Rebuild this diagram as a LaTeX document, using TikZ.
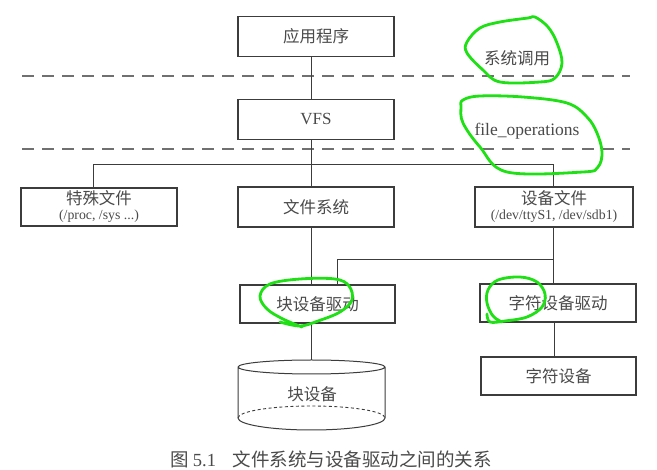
\documentclass[tikz,border=0pt]{standalone}
\usepackage{fontspec}
\setmainfont{Liberation Serif}
\newfontfamily\cjk{Noto Sans CJK SC}
\usetikzlibrary{calc}

\definecolor{inkline}{HTML}{3C3C3C}
\definecolor{inktext}{HTML}{4A4A4A}
\definecolor{dashgray}{HTML}{707070}
\definecolor{marker}{HTML}{1EE014}

\tikzset{
  box/.style={draw=inkline, line width=1.1pt, rectangle, inner sep=0pt,
    minimum width=156pt, minimum height=40pt, text=inktext, align=center},
  cn/.style={font=\cjk\fontsize{16.5}{18}\selectfont},
  subtext/.style={font=\rmfamily\fontsize{13.6}{15}\selectfont},
  link/.style={draw=inkline, line width=1pt},
  layer/.style={draw=dashgray, line width=1.4pt, dash pattern=on 12pt off 8pt},
  note/.style={text=inktext},
  scribble/.style={draw=marker, line width=2.8pt, line cap=round, line join=round},
}

\begin{document}
\begin{tikzpicture}[x=1pt, y=-1pt]
  \useasboundingbox[fill=white] (0,0) rectangle (657,470);

  % layer boundaries
  \draw[layer] (22,76) -- (630,76);
  \draw[layer] (22,149) -- (630,149);

  % boxes
  \node[box, cn] (app) at (316,36.5) {应用程序};
  \node[box, font=\fontsize{17}{18}\selectfont] (vfs) at (316,119.5) {VFS};
  \node[box, cn, minimum height=38pt] (spec) at (99,207)
    {特殊文件\\[-3pt]{\rmfamily\fontsize{13.8}{15}\selectfont(/proc, /sys ...)}};
  \node[box, cn] (fs) at (316,207) {文件系统};
  \node[box, cn, minimum width=158pt] (dev) at (554,207)
    {设备文件\\[-3pt]{\rmfamily\fontsize{13.8}{15}\selectfont(/dev/ttyS1, /dev/sdb1)}};
  \node[box, cn, minimum width=155pt, minimum height=38pt] (bdrv) at (317.5,304) {块设备驱动};
  \node[box, cn, minimum width=156pt, minimum height=38pt] (cdrv) at (558,303) {字符设备驱动};
  \node[box, cn, minimum width=155pt, minimum height=38pt] (cdev) at (558.5,376) {字符设备};

  % block device drum
  \coordinate (blktop) at (311.5,360);
  \draw[inkline, line width=1pt]
    (238,367) arc[start angle=180, end angle=360, x radius=73.5pt, y radius=7pt]
    arc[start angle=0, end angle=180, x radius=73.5pt, y radius=7pt]
    -- (238,418) arc[start angle=180, end angle=360, x radius=73.5pt, y radius=12pt]
    -- (385,367);
  \draw[inkline, line width=0.9pt, dash pattern=on 3pt off 2.5pt]
    (238,418) arc[start angle=180, end angle=0, x radius=73.5pt, y radius=12pt];
  \node[cn, text=inktext] (blk) at (312,394) {块设备};

  % spine and buses
  \coordinate (spine) at (311,0);
  \coordinate (bus) at (0,165);
  \coordinate (devbus) at (0,260);
  \coordinate (lbranch) at (93,0);
  \coordinate (rbranch) at (553,0);
  \coordinate (bbranch) at (337,0);
  \coordinate (cbranch) at (554,0);

  \draw[link] (app.south -| spine) -- (vfs.north -| spine);
  \draw[link] (vfs.south -| spine) -- (fs.north -| spine);
  \draw[link] (spec.north -| lbranch) -- (bus -| lbranch) -- (bus -| rbranch) -- (dev.north -| rbranch);
  \draw[link] (fs.south -| spine) -- (bdrv.north -| spine);
  \draw[link] (dev.south -| rbranch) -- (cdrv.north -| rbranch);
  \draw[link] (devbus -| rbranch) -- (devbus -| bbranch) -- (bdrv.north -| bbranch);
  \draw[link] (bdrv.south -| spine) -- (blktop -| spine);
  \draw[link] (cdrv.south -| cbranch) -- (cdev.north -| cbranch);

  % interface labels
  \node[note, cn] (syscall) at (517,58) {系统调用};
  \node[note, font=\fontsize{17.5}{18}\selectfont] (fops) at (527,131) {file\_operations};

  % caption
  \node[text=inktext, font=\cjk\fontsize{18.5}{20}\selectfont] (cap) at (331,459)
    {图 {\rmfamily\fontsize{18.5}{20}\selectfont 5.1}\hspace{0.9em}文件系统与设备驱动之间的关系};

  % highlighter marks
  \draw[scribble] plot[smooth cycle, tension=0.6] coordinates {
    (535,17) (548,27) (557,43) (562,63) (555,78) (540,82) (500,82)
    (483,70) (467,53) (467,42) (480,28) (500,22) (528,18)};
  \draw[scribble] plot[smooth cycle, tension=0.6] coordinates {
    (463,100) (480,96) (523,97) (567,103) (587,117) (597,133) (602,152)
    (598,167) (583,172) (507,172) (480,147) (463,123) (461,107)};
  \draw[scribble] plot[smooth, tension=0.6] coordinates {
    (280,322) (300,326) (318,321) (340,312) (352,300) (349,286) (335,279)
    (300,279) (270,284) (260,296) (267,309) (283,319) (302,327)};
  \draw[scribble] plot[smooth, tension=0.6] coordinates {
    (487,314) (490,322) (505,321) (527,317) (542,307) (545,294) (537,282)
    (520,277) (498,280) (488,290) (487,303) (493,316) (502,322)};
\end{tikzpicture}
\end{document}
